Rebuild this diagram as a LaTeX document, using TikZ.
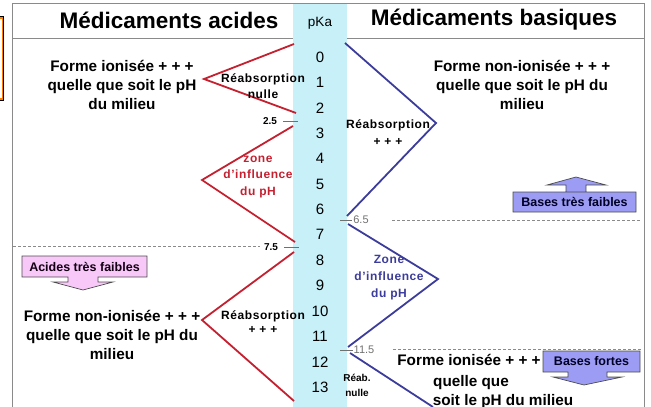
\documentclass[tikz,border=0pt]{standalone}
\usepackage{fontspec}
\setmainfont{Liberation Sans}
\definecolor{acidred}{HTML}{C42030}
\definecolor{baseblue}{HTML}{3C3C9C}
\definecolor{pkcyan}{HTML}{C8F0F8}
\definecolor{framegray}{HTML}{8A8A8A}
\definecolor{pinkfill}{HTML}{F8C8F8}
\definecolor{lavfill}{HTML}{9C9CF4}
\definecolor{tickgray}{HTML}{707070}
\begin{document}
\begin{tikzpicture}[x=1pt,y=-1pt,
  txt/.style={font=\bfseries\fontsize{15.3}{19}\selectfont, align=center, inner sep=0pt},
  small/.style={font=\bfseries\fontsize{12}{16}\selectfont\addfontfeatures{LetterSpace=5}, align=center, inner sep=0pt},
  title/.style={font=\bfseries\fontsize{22.5}{24}\selectfont, inner sep=0pt},
  pk/.style={font=\fontsize{15}{16}\selectfont, inner sep=0pt},
  redline/.style={acidred, line width=1.8pt, line join=miter},
  blueline/.style={baseblue, line width=1.8pt, line join=miter},
  tick/.style={tickgray, line width=0.8pt},
  dashline/.style={framegray, line width=0.8pt, dash pattern=on 3pt off 2pt},
  callout/.style={draw=black!70, line width=0.7pt}
]
\useasboundingbox (0,0) rectangle (651,407);
% orange box at left edge
\draw[black, line width=0.6pt] (-6,16.5) rectangle (3.5,100);
\draw[orange, line width=1.6pt] (-6,17.7) rectangle (2.3,98.8);
% pKa column
\fill[pkcyan] (293,3) rectangle (347,407);
% frame
\draw[framegray, line width=0.9pt] (12.5,407) -- (12.5,3) -- (644,3) -- (644,407);
\draw[framegray, line width=0.9pt] (12.5,38) -- (293,38);
\draw[framegray, line width=0.9pt] (347,38) -- (644,38);
% titles
\node[title] (tA) at (169,20) {Médicaments acides};
\node[title] (tB) at (494,20) {Médicaments basiques};
\node[font=\fontsize{13.5}{15}\selectfont, inner sep=0pt] (pka) at (320,23) {pKa};
% pKa numbers
\foreach \n in {0,...,13} {
  \node[pk] (n\n) at (320,{57+25.4*\n}) {\n};
}
% red chevrons
\coordinate (r1a) at (294,44);
\coordinate (r1b) at (204,79);
\coordinate (r1c) at (296,113);
\coordinate (r2a) at (293,126);
\coordinate (r2b) at (202,180);
\coordinate (r2c) at (295,242);
\coordinate (r3a) at (294,252);
\coordinate (r3b) at (202,320);
\coordinate (r3c) at (294,401);
\draw[redline] (r1a) -- (r1b) -- (r1c);
\draw[redline] (r2a) -- (r2b) -- (r2c);
\draw[redline] (r3a) -- (r3b) -- (r3c);
% blue chevrons
\coordinate (b1a) at (345,43);
\coordinate (b1b) at (436,123);
\coordinate (b1c) at (347,216);
\coordinate (b2a) at (348,224);
\coordinate (b2b) at (438,279);
\coordinate (b2c) at (348,347);
\coordinate (b3a) at (350,353);
\coordinate (b3b) at (433,407);
\draw[blueline] (b1a) -- (b1b) -- (b1c);
\draw[blueline] (b2a) -- (b2b) -- (b2c);
\draw[blueline] (b3a) -- (b3b);
% ticks and labels
\coordinate (t25a) at (283,121); \coordinate (t25b) at (298,121);
\draw[tick] (t25a) -- (t25b);
\node[font=\bfseries\fontsize{10}{12}\selectfont, inner sep=0pt] (l25) at (270,121) {2.5};
\coordinate (t75a) at (284,247); \coordinate (t75b) at (299,247);
\draw[tick] (t75a) -- (t75b);
\node[font=\bfseries\fontsize{10}{12}\selectfont, inner sep=0pt] (l75) at (271,247) {7.5};
\coordinate (d75a) at (13,246); \coordinate (d75b) at (260,246);
\draw[dashline] (d75a) -- (d75b);
\coordinate (t65a) at (340,220); \coordinate (t65b) at (352,220);
\draw[tick] (t65a) -- (t65b);
\node[font=\fontsize{11}{12}\selectfont, text=tickgray, inner sep=0pt] (l65) at (361,220) {6.5};
\coordinate (d65a) at (392,220); \coordinate (d65b) at (640,220);
\draw[dashline] (d65a) -- (d65b);
\coordinate (t115a) at (340,350); \coordinate (t115b) at (353,350);
\draw[tick] (t115a) -- (t115b);
\node[font=\fontsize{11}{12}\selectfont, text=tickgray, inner sep=0pt] (l115) at (364,350) {11.5};
\coordinate (d115a) at (393,349); \coordinate (d115b) at (641,349);
\draw[dashline] (d115a) -- (d115b);
% left texts
\node[txt] (fiA) at (122,85) {Forme ionisée + + +\\quelle que soit le pH\\du milieu};
\node[txt] (fnA) at (112,335) {Forme non-ionisée + + +\\quelle que soit le pH du\\milieu};
\node[small] (raA) at (263,86) {Réabsorption\\nulle};
\node[small, text=acidred, font=\bfseries\fontsize{12}{16.5}\selectfont\addfontfeatures{LetterSpace=5}] (ziA) at (258,177) {zone\\d'influence\\du pH};
\node[small, font=\bfseries\fontsize{12}{14}\selectfont\addfontfeatures{LetterSpace=5}] (rbA) at (263,322) {Réabsorption\\+ + +};
% right texts
\node[txt] (fnB) at (522,85) {Forme non-ionisée + + +\\quelle que soit le pH du\\milieu};
\node[small, font=\bfseries\fontsize{12}{17}\selectfont\addfontfeatures{LetterSpace=5}] (raB) at (388,133) {Réabsorption\\+ + +};
\node[small, text=baseblue, font=\bfseries\fontsize{12}{17}\selectfont\addfontfeatures{LetterSpace=5}] (ziB) at (389,278) {Zone\\d'influence\\du pH};
\node[small, font=\bfseries\fontsize{10}{15}\selectfont] (rnB) at (357,385) {Réab.\\nulle};
\node[txt, anchor=base] (fiB1) at (469,365) {Forme ionisée + + +};
\node[txt, anchor=base] (fiB2) at (471,386) {quelle que};
\node[txt, anchor=base] (fiB3) at (503,405) {soit le pH du milieu};
% callouts
\draw[callout, fill=pinkfill] (22,256) -- (147,256) -- (147,277) -- (98,277) -- (98,282) -- (113,282) -- (83,290) -- (53,282) -- (68,282) -- (68,277) -- (22,277) -- cycle;
\node[font=\bfseries\fontsize{12.5}{14}\selectfont, text=black!85!violet, inner sep=0pt] (atf) at (84.5,266.5) {Acides très faibles};
\draw[callout, fill=lavfill] (513,192) -- (636,192) -- (636,212) -- (513,212) -- (513,192) -- (566,192) -- (566,185) -- (547,185) -- (576,177) -- (606,185) -- (586,185) -- (586,192);
\node[font=\bfseries\fontsize{12.5}{14}\selectfont, text=black!85!blue, inner sep=0pt] (btf) at (574.5,202) {Bases très faibles};
\draw[callout, fill=lavfill] (543,351) -- (640,351) -- (640,372) -- (607,372) -- (607,377) -- (622,377) -- (584,385) -- (553,377) -- (568,377) -- (568,372) -- (543,372) -- cycle;
\node[font=\bfseries\fontsize{12.5}{14}\selectfont, text=black!85!blue, inner sep=0pt] (bf) at (591.5,361.5) {Bases fortes};
\end{tikzpicture}
\end{document}
